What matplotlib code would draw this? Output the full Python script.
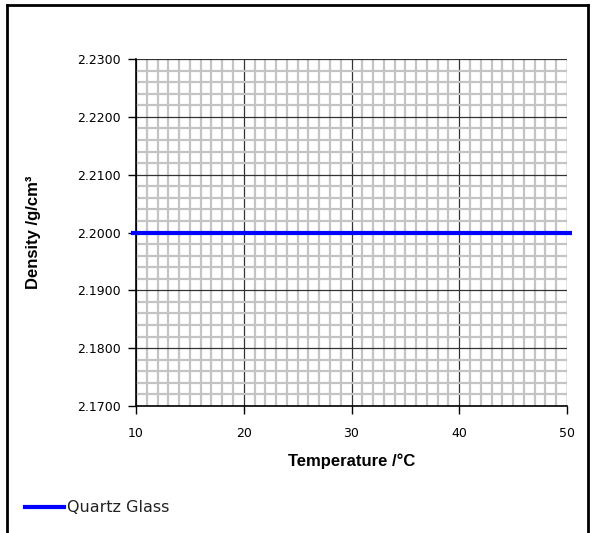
import matplotlib.pyplot as plt
from matplotlib.lines import Line2D
from matplotlib.ticker import MultipleLocator, FormatStrFormatter

# Quartz glass density over temperature
temperature = [9.5, 50.5]
density = [2.2000, 2.2000]
series_name = 'Quartz Glass'

x_ticks = [10, 20, 30, 40, 50]
y_ticks = [2.17, 2.18, 2.19, 2.20, 2.21, 2.22, 2.23]

W, H = 595, 533
fig = plt.figure(figsize=(W / 100, H / 100), dpi=100)
plt.rcParams['font.family'] = ['DejaVu Sans']

# plot area in pixel coordinates
left, right, top, bottom = 136, 567, 59, 406
ax = fig.add_axes([left / W, 1 - bottom / H, (right - left) / W, (bottom - top) / H])

ax.set_xlim(10, 50)
ax.set_ylim(2.17, 2.23)
ax.set_xticks(x_ticks)
ax.set_yticks(y_ticks)
ax.xaxis.set_minor_locator(MultipleLocator(1))
ax.yaxis.set_minor_locator(MultipleLocator(0.002))
ax.yaxis.set_major_formatter(FormatStrFormatter('%.4f'))

ax.grid(which='minor', color='#c4c4c4', linewidth=1.6, zorder=0)
ax.grid(which='major', color='#333333', linewidth=0.9, zorder=0.5)
ax.set_axisbelow(True)

for side in ('top', 'right'):
    ax.spines[side].set_visible(False)
for side in ('left', 'bottom'):
    ax.spines[side].set_linewidth(1.2)

ax.tick_params(which='major', direction='out', length=6, width=1, labelsize=9,
               colors='black', pad=5)
ax.tick_params(which='minor', length=0)
ax.tick_params(axis='x', pad=9)

ax.plot(temperature, density, color='#0000ff', linewidth=3, clip_on=False,
        solid_capstyle='butt', zorder=3)

label_font = dict(family='Liberation Sans', fontsize=12, fontweight='bold')
ax.set_xlabel('Temperature /°C', labelpad=10, **label_font)
ax.set_ylabel('Density /g/cm³', labelpad=26, **label_font)

# legend below the plot area
fig.add_artist(Line2D([25 / W, 64 / W], [1 - 507 / H, 1 - 507 / H],
                      color='#0000ff', linewidth=3))
fig.text(67 / W, 1 - 508 / H, series_name, fontsize=11.5, va='center', ha='left',
         color='#222222')

# outer chart frame (open at the bottom edge)
frame_kw = dict(color='black', linewidth=2)
fig.add_artist(Line2D([7 / W, 7 / W], [0, 1 - 5 / H], **frame_kw))
fig.add_artist(Line2D([7 / W, 588 / W], [1 - 5 / H, 1 - 5 / H], **frame_kw))
fig.add_artist(Line2D([588 / W, 588 / W], [0, 1 - 5 / H], **frame_kw))

fig.savefig('out.png', dpi=100)
